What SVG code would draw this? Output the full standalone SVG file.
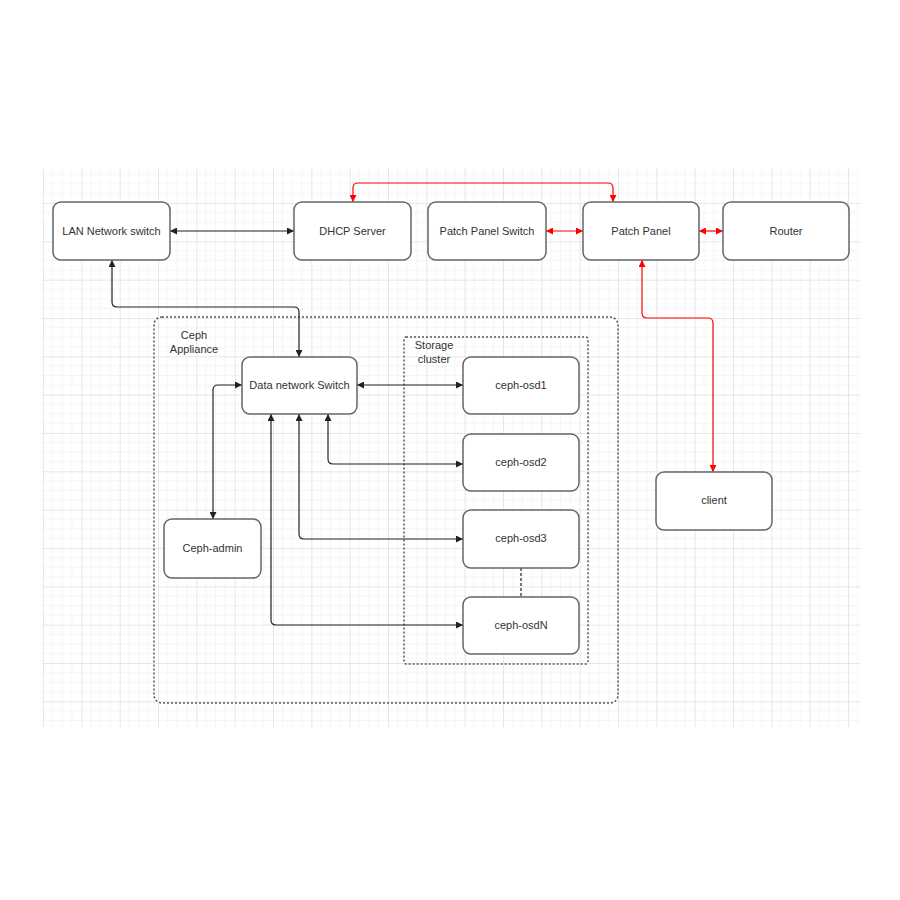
<svg xmlns="http://www.w3.org/2000/svg" width="900" height="900" viewBox="0 0 900 900">
<defs>
<pattern id="grid" patternUnits="userSpaceOnUse" x="43.05" y="164.7" width="38.33" height="38.33">
<path d="M9.58,0V38.33M19.17,0V38.33M28.75,0V38.33M0,9.58H38.33M0,19.17H38.33M0,28.75H38.33" stroke="#f5f5f5" stroke-width="1" fill="none"/>
<path d="M0.5,0V38.33M0,0.5H38.33" stroke="#e6e6e6" stroke-width="1" fill="none"/>
</pattern>
<marker id="ab" viewBox="0 0 10 10" refX="10" refY="5" markerWidth="7" markerHeight="7" markerUnits="userSpaceOnUse" orient="auto-start-reverse">
<path d="M0,0L10,5L0,10z" fill="#222"/>
</marker>
<marker id="ar" viewBox="0 0 10 10" refX="10" refY="5" markerWidth="7" markerHeight="7" markerUnits="userSpaceOnUse" orient="auto-start-reverse">
<path d="M0,0L10,5L0,10z" fill="#f00"/>
</marker>
</defs>
<style>
.node rect{fill:#fff;stroke:#666;stroke-width:1.5}
.lbl{font-family:"Liberation Sans",Arial,sans-serif;font-size:11px;fill:#333;text-anchor:middle;dominant-baseline:central}
.c{fill:none;stroke:#222;stroke-width:1.2;marker-start:url(#ab);marker-end:url(#ab)}
.r{fill:none;stroke:#f00;stroke-width:1.2;marker-start:url(#ar);marker-end:url(#ar)}
.grp{fill:none;stroke:#555;stroke-width:1.5;stroke-dasharray:2 2}
</style>
<rect width="900" height="900" fill="#fff"/>
<rect x="42" y="168" width="818" height="559" fill="url(#grid)"/>

<g id="ceph-appliance">
<rect class="grp" x="154" y="317" width="464" height="386" rx="8"/>
<text class="lbl" x="194" y="335">Ceph</text>
<text class="lbl" x="194" y="349">Appliance</text>
</g>
<g id="storage-cluster">
<rect class="grp" x="404" y="337" width="184" height="327" rx="2"/>
<text class="lbl" x="434" y="345">Storage</text>
<text class="lbl" x="434" y="359">cluster</text>
</g>

<g id="connectors">
<path class="c" d="M170,231H294"/>
<path class="c" d="M112,260V302Q112,307 117,307H294Q299,307 299,312V357"/>
<path class="r" d="M353,202V188Q353,183 358,183H608Q613,183 613,188V202"/>
<path class="r" d="M546,231H583"/>
<path class="r" d="M699,231H723"/>
<path class="r" d="M642,260V313Q642,318 647,318H708Q713,318 713,323V472"/>
<path class="c" d="M357,385H463"/>
<path class="c" d="M242,385H218Q213,385 213,390V519"/>
<path class="c" d="M328,414V459Q328,464 333,464H463"/>
<path class="c" d="M299,414V534Q299,539 304,539H463"/>
<path class="c" d="M271,414V620Q271,625 276,625H463"/>
<path d="M521,568V597" fill="none" stroke="#222" stroke-width="1.2" stroke-dasharray="3 2"/>
</g>

<g id="lan-switch" class="node"><rect x="53" y="202" width="117" height="58" rx="8"/><text class="lbl" x="111.5" y="231">LAN Network switch</text></g>
<g id="dhcp-server" class="node"><rect x="294" y="202" width="117" height="58" rx="8"/><text class="lbl" x="352.5" y="231">DHCP Server</text></g>
<g id="patch-panel-switch" class="node"><rect x="428" y="202" width="118" height="58" rx="8"/><text class="lbl" x="487" y="231">Patch Panel Switch</text></g>
<g id="patch-panel" class="node"><rect x="583" y="202" width="116" height="58" rx="8"/><text class="lbl" x="641" y="231">Patch Panel</text></g>
<g id="router" class="node"><rect x="723" y="202" width="126" height="58" rx="8"/><text class="lbl" x="786" y="231">Router</text></g>
<g id="data-switch" class="node"><rect x="242" y="357" width="115" height="57" rx="8"/><text class="lbl" x="299.5" y="385">Data network Switch</text></g>
<g id="ceph-osd1" class="node"><rect x="463" y="357" width="116" height="57" rx="8"/><text class="lbl" x="521" y="385">ceph-osd1</text></g>
<g id="ceph-osd2" class="node"><rect x="463" y="434" width="116" height="57" rx="8"/><text class="lbl" x="521" y="462">ceph-osd2</text></g>
<g id="ceph-osd3" class="node"><rect x="463" y="510" width="116" height="58" rx="8"/><text class="lbl" x="521" y="538">ceph-osd3</text></g>
<g id="ceph-osdN" class="node"><rect x="463" y="597" width="116" height="57" rx="8"/><text class="lbl" x="521" y="625">ceph-osdN</text></g>
<g id="ceph-admin" class="node"><rect x="164" y="519" width="97" height="59" rx="8"/><text class="lbl" x="212.5" y="548">Ceph-admin</text></g>
<g id="client" class="node"><rect x="656" y="472" width="116" height="58" rx="8"/><text class="lbl" x="714" y="500">client</text></g>
</svg>
